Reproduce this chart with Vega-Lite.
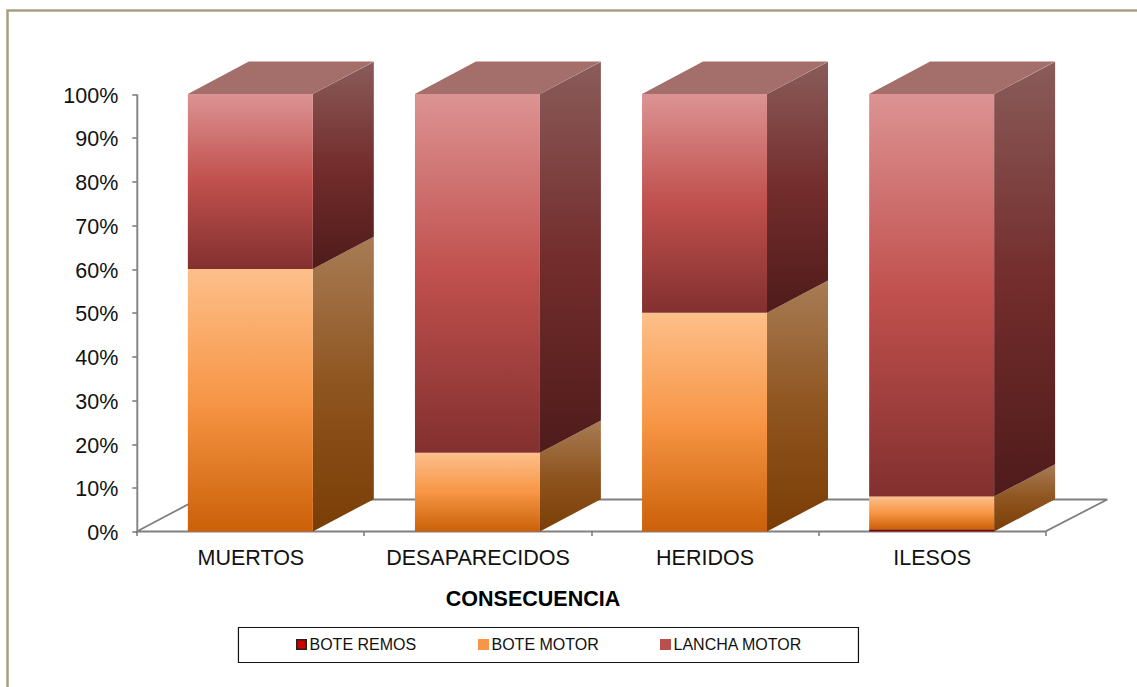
{
"$schema":"https://vega.github.io/schema/vega-lite/v6.json",
"autosize":"none",
"width":1140,"height":690,
"padding":{"left":7.5,"top":10.5,"right":-10.5,"bottom":-13.5},
"background":"white",
"config":{"font":"Liberation Sans","view":{"stroke":"#a89f82","strokeWidth":2.5,"fill":"white"}},
"datasets":{
"valores":[
{"consecuencia":"MUERTOS","serie":"BOTE MOTOR","orden":2,"valor":60},
{"consecuencia":"MUERTOS","serie":"LANCHA MOTOR","orden":3,"valor":40},
{"consecuencia":"DESAPARECIDOS","serie":"BOTE MOTOR","orden":2,"valor":18},
{"consecuencia":"DESAPARECIDOS","serie":"LANCHA MOTOR","orden":3,"valor":82},
{"consecuencia":"HERIDOS","serie":"BOTE MOTOR","orden":2,"valor":50},
{"consecuencia":"HERIDOS","serie":"LANCHA MOTOR","orden":3,"valor":50},
{"consecuencia":"ILESOS","serie":"BOTE REMOS","orden":1,"valor":0.5},
{"consecuencia":"ILESOS","serie":"BOTE MOTOR","orden":2,"valor":7.5},
{"consecuencia":"ILESOS","serie":"LANCHA MOTOR","orden":3,"valor":92}
],
"laterales":[
{"consecuencia":"MUERTOS","serie":"BOTE MOTOR","borde":"frente","desde":0,"hasta":0.6},
{"consecuencia":"MUERTOS","serie":"BOTE MOTOR","borde":"fondo","desde":0.074,"hasta":0.674},
{"consecuencia":"MUERTOS","serie":"LANCHA MOTOR","borde":"frente","desde":0.6,"hasta":1},
{"consecuencia":"MUERTOS","serie":"LANCHA MOTOR","borde":"fondo","desde":0.674,"hasta":1.074},
{"consecuencia":"DESAPARECIDOS","serie":"BOTE MOTOR","borde":"frente","desde":0,"hasta":0.18},
{"consecuencia":"DESAPARECIDOS","serie":"BOTE MOTOR","borde":"fondo","desde":0.074,"hasta":0.254},
{"consecuencia":"DESAPARECIDOS","serie":"LANCHA MOTOR","borde":"frente","desde":0.18,"hasta":1},
{"consecuencia":"DESAPARECIDOS","serie":"LANCHA MOTOR","borde":"fondo","desde":0.254,"hasta":1.074},
{"consecuencia":"HERIDOS","serie":"BOTE MOTOR","borde":"frente","desde":0,"hasta":0.5},
{"consecuencia":"HERIDOS","serie":"BOTE MOTOR","borde":"fondo","desde":0.074,"hasta":0.574},
{"consecuencia":"HERIDOS","serie":"LANCHA MOTOR","borde":"frente","desde":0.5,"hasta":1},
{"consecuencia":"HERIDOS","serie":"LANCHA MOTOR","borde":"fondo","desde":0.574,"hasta":1.074},
{"consecuencia":"ILESOS","serie":"BOTE MOTOR","borde":"frente","desde":0,"hasta":0.08},
{"consecuencia":"ILESOS","serie":"BOTE MOTOR","borde":"fondo","desde":0.074,"hasta":0.154},
{"consecuencia":"ILESOS","serie":"LANCHA MOTOR","borde":"frente","desde":0.08,"hasta":1},
{"consecuencia":"ILESOS","serie":"LANCHA MOTOR","borde":"fondo","desde":0.154,"hasta":1.074}
]
},
"data":{"name":"valores"},
"encoding":{
"x":{"field":"consecuencia","type":"nominal","sort":["MUERTOS","DESAPARECIDOS","HERIDOS","ILESOS"],
 "scale":{"domain":["MUERTOS","DESAPARECIDOS","HERIDOS","ILESOS"],"range":[129.3,1037.7],"paddingInner":0,"paddingOuter":0},
 "axis":{"title":"CONSECUENCIA","titleFontSize":21.5,"titleFontWeight":"bold","titleColor":"#000","titlePadding":19,"titleX":525,"labelFontSize":21.5,"labelColor":"#111","labelAngle":0,"labelPadding":12,"tickBand":"extent","tickColor":"#333","tickSize":5,"domainColor":"#868686","domainWidth":2,"offset":-170,"labelLimit":300,"grid":false}}
},
"layer":[
{"transform":[{"filter":"datum.serie==='LANCHA MOTOR' && datum.consecuencia==='MUERTOS'"}],
 "mark":{"type":"point","shape":"M-113.6,0 L-53,-32 L857,-32 L794.8,0 Z","size":4,"filled":true,"fill":"white","stroke":"#808080","strokeWidth":1.8,"opacity":1},
 "encoding":{"y":{"datum":0,"type":"quantitative","scale":{"domain":[0,1],"range":[521,83.5]},
   "axis":{"title":null,"values":[0,0.1,0.2,0.3,0.4,0.5,0.6,0.7,0.8,0.9,1],"format":".0%","labelFontSize":21.5,"labelColor":"#111","labelPadding":14,"labelOffset":2,"tickColor":"#333","tickSize":5,"domainColor":"#868686","domainWidth":2,"offset":-129.3,"grid":false}}}},
{"transform":[{"filter":"datum.serie==='LANCHA MOTOR' && datum.consecuencia==='MUERTOS'"}],
 "mark":{"type":"point","shape":"M-11.9,96 L608.1,96 L608.1,131 L-11.9,131 Z","size":4,"filled":true,"fill":"white","stroke":"#111","strokeWidth":1.2,"opacity":1},
 "encoding":{"y":{"datum":0,"type":"quantitative"}}},
{"data":{"name":"laterales"},"transform":[{"filter":"datum.serie==='BOTE MOTOR'"}],
 "mark":{"type":"area","fill":{"gradient":"linear","x1":0,"y1":0,"x2":0,"y2":1,"stops":[{"offset":0,"color":"#a87c55"},{"offset":0.5,"color":"#8f5520"},{"offset":1,"color":"#7a3d05"}]}},
 "encoding":{"xOffset":{"field":"borde","type":"nominal","scale":{"type":"point","padding":0,"domain":["frente","fondo"],"range":[176,237]}},
  "y":{"field":"desde","type":"quantitative"},"y2":{"field":"hasta"},"detail":{"field":"consecuencia"}}},
{"data":{"name":"laterales"},"transform":[{"filter":"datum.serie==='LANCHA MOTOR'"}],
 "mark":{"type":"area","fill":{"gradient":"linear","x1":0,"y1":0,"x2":0,"y2":1,"stops":[{"offset":0,"color":"#8a5c5a"},{"offset":0.5,"color":"#732d2c"},{"offset":1,"color":"#4f1b1b"}]}},
 "encoding":{"xOffset":{"field":"borde","type":"nominal","scale":{"type":"point","padding":0,"domain":["frente","fondo"],"range":[176,237]}},
  "y":{"field":"desde","type":"quantitative"},"y2":{"field":"hasta"},"detail":{"field":"consecuencia"}}},
{"transform":[{"stack":"valor","groupby":["consecuencia"],"sort":[{"field":"orden"}],"offset":"normalize","as":["inicio","fin"]},{"filter":"datum.serie==='BOTE REMOS'"}],
 "mark":{"type":"bar","size":125,"fill":"#7a0a00"},
 "encoding":{"y":{"field":"inicio","type":"quantitative"},"y2":{"field":"fin"}}},
{"transform":[{"stack":"valor","groupby":["consecuencia"],"sort":[{"field":"orden"}],"offset":"normalize","as":["inicio","fin"]},{"filter":"datum.serie==='BOTE MOTOR'"}],
 "mark":{"type":"bar","size":125,"fill":{"gradient":"linear","x1":0,"y1":0,"x2":0,"y2":1,"stops":[{"offset":0,"color":"#fdbf8a"},{"offset":0.5,"color":"#f79646"},{"offset":1,"color":"#cb6008"}]}},
 "encoding":{"y":{"field":"inicio","type":"quantitative"},"y2":{"field":"fin"}}},
{"transform":[{"stack":"valor","groupby":["consecuencia"],"sort":[{"field":"orden"}],"offset":"normalize","as":["inicio","fin"]},{"filter":"datum.serie==='LANCHA MOTOR'"}],
 "mark":{"type":"bar","size":125,"fill":{"gradient":"linear","x1":0,"y1":0,"x2":0,"y2":1,"stops":[{"offset":0,"color":"#dc9393"},{"offset":0.5,"color":"#c0504d"},{"offset":1,"color":"#82302f"}]}},
 "encoding":{"y":{"field":"inicio","type":"quantitative"},"y2":{"field":"fin"}}},
{"transform":[{"filter":"datum.serie==='LANCHA MOTOR'"}],
 "mark":{"type":"point","shape":"M-62.5,0 L62.5,0 L123.5,-32.5 L-1.5,-32.5 Z","size":4,"filled":true,"fill":"#a46f6b","opacity":1},
 "encoding":{"y":{"datum":1,"type":"quantitative"}}},
{"mark":{"type":"point","filled":true,"opacity":0,"size":120,"shape":"square"},
 "encoding":{"y":{"datum":0,"type":"quantitative"},
  "stroke":{"field":"serie","type":"nominal","scale":{"domain":["BOTE REMOS","BOTE MOTOR","LANCHA MOTOR"],"range":["#222222","#f79646","#b9504e"]},"legend":null},
  "fill":{"field":"serie","type":"nominal","scale":{"domain":["BOTE REMOS","BOTE MOTOR","LANCHA MOTOR"],"range":["#d00000","#f79646","#b9504e"]},
   "legend":{"title":null,"orient":"none","legendX":286,"legendY":626,"direction":"horizontal","columns":3,"gridAlign":"all","symbolType":"square","symbolSize":90,"symbolStrokeWidth":1.5,"symbolOpacity":1,"labelFontSize":16,"labelColor":"#111","labelOffset":0,"columnPadding":37,"padding":0,"labelLimit":300}}}}
]
}
